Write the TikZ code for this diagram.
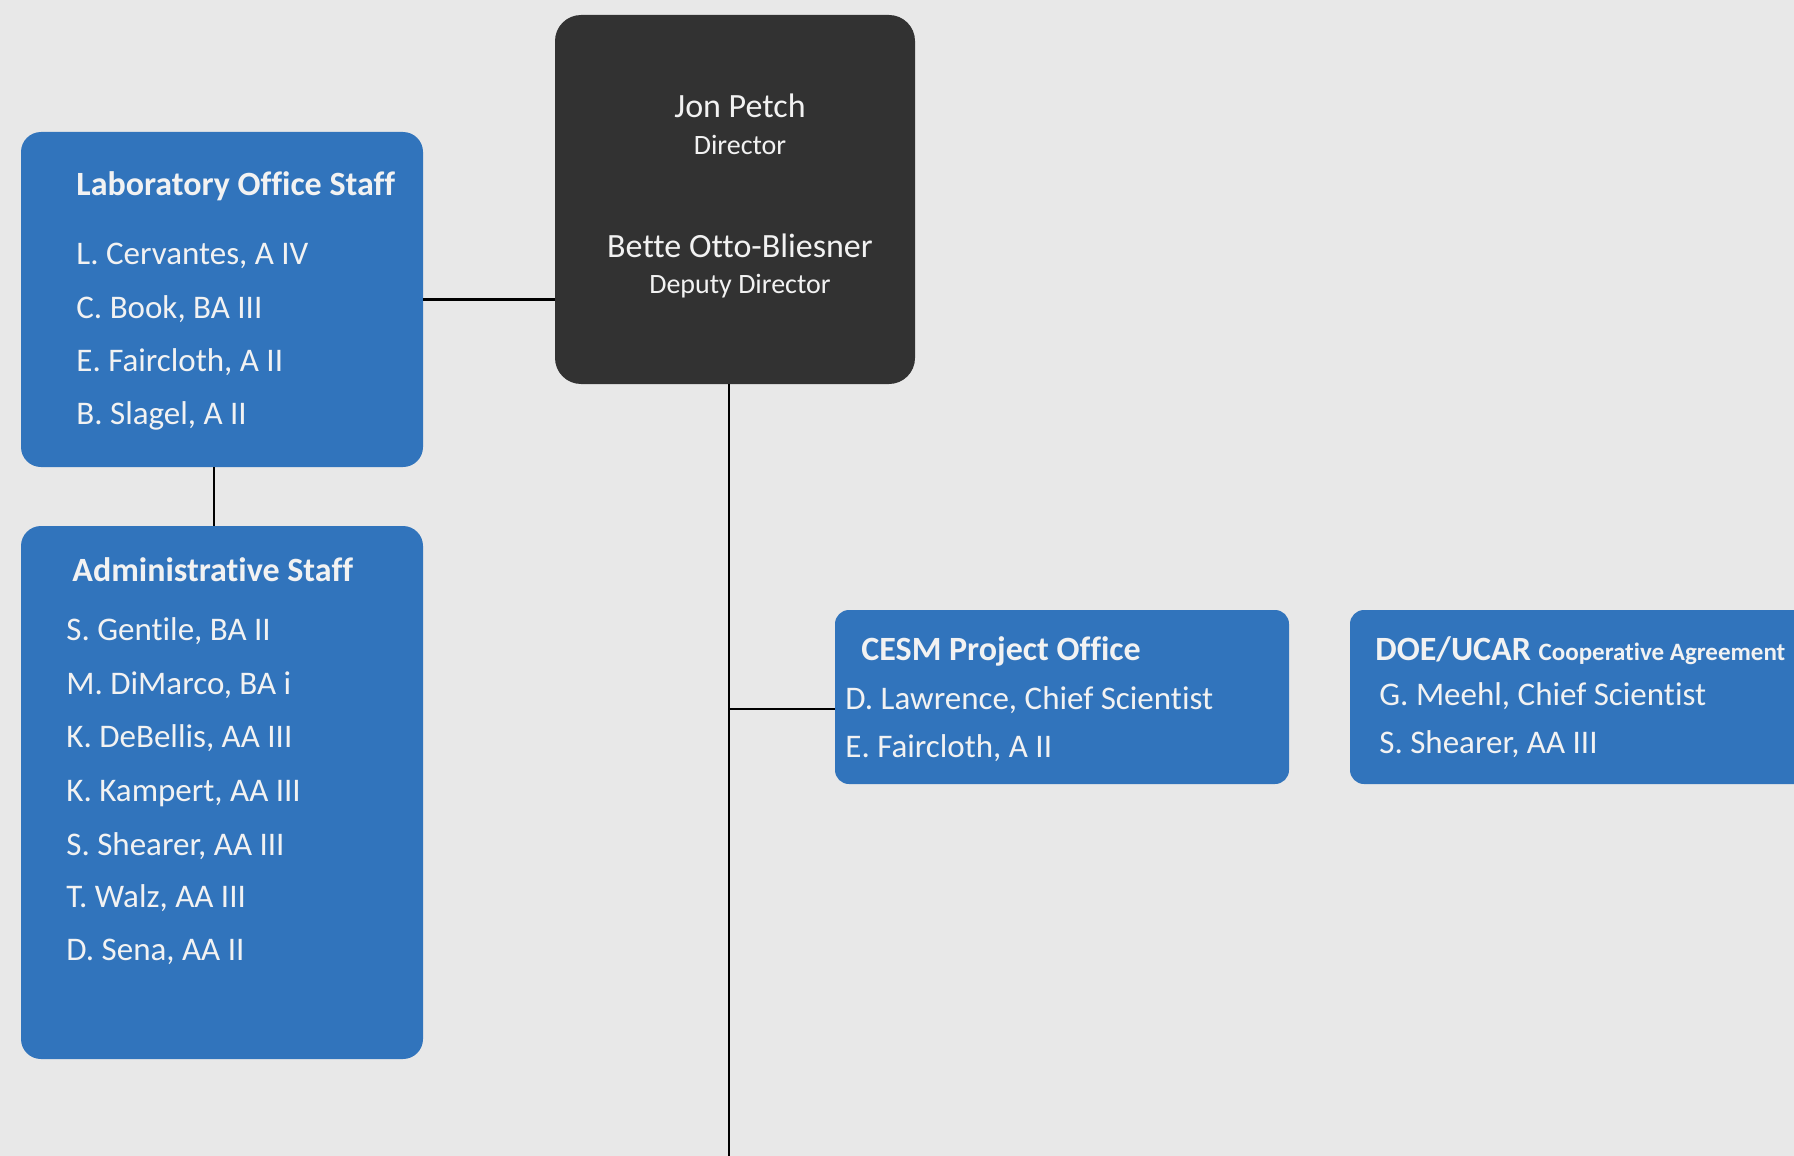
\documentclass[tikz,border=0pt]{standalone}
\usepackage{fontspec}
\setmainfont{Carlito}[Ligatures=NoCommon]
\definecolor{bgcol}{HTML}{E8E8E8}
\definecolor{boxblue}{HTML}{3174BC}
\definecolor{boxdark}{HTML}{323232}
\definecolor{txtwhite}{HTML}{F2F2F2}
\begin{document}
\begin{tikzpicture}[x=0.5pt,y=-0.5pt,
  bluebox/.style={fill=boxblue, draw=none, inner sep=0pt, outer sep=0pt, rounded corners=10pt},
  darkbox/.style={fill=boxdark, draw=none, inner sep=0pt, outer sep=0pt, rounded corners=13pt},
  conn/.style={draw=black, line width=1.3pt},
  item/.style={anchor=base west, inner sep=0pt, text=txtwhite, font=\fontsize{16.5}{18}\selectfont},
  head/.style={anchor=base west, inner sep=0pt, text=txtwhite, font=\fontsize{17}{19}\selectfont\bfseries},
  dname/.style={anchor=base, inner sep=0pt, text=txtwhite, font=\fontsize{17}{19}\selectfont},
  drole/.style={anchor=base, inner sep=0pt, text=txtwhite, font=\fontsize{14}{16}\selectfont}]
\clip (0,0) rectangle (1794,1156);
\fill[bgcol] (0,0) rectangle (1794,1156);

% boxes
\node[darkbox, minimum width=180pt, minimum height=184.5pt] (dir) at (735,199.5) {};
\node[bluebox, minimum width=201pt, minimum height=167.5pt] (lab) at (222,299.5) {};
\node[bluebox, minimum width=201pt, minimum height=266.5pt] (admin) at (222,792.5) {};
\node[bluebox, rounded corners=7pt, minimum width=227pt, minimum height=87pt] (cesm) at (1062,697) {};
\node[bluebox, rounded corners=7pt, minimum width=240pt, minimum height=87pt] (doe) at (1590,697) {};

% connectors
\coordinate (labdrop) at (214,467);
\coordinate (trunkend) at (729,1160);
\coordinate (branch) at (729,709);
\draw[conn] (lab.east) -- (lab.east -| dir.west);
\draw[conn] (labdrop) -- (labdrop |- admin.north);
\draw[conn] (trunkend |- dir.south) -- (trunkend);
\draw[conn] (branch) -- (branch -| cesm.west);

% director text
\node[dname] (n1) at (740,118) {Jon Petch};
\node[drole] (n2) at (740,155) {Director};
\node[dname] (n3) at (740,257) {Bette Otto-Bliesner};
\node[drole] (n4) at (740,293) {Deputy Director};

% lab office staff
\node[head] (l0) at (76,196) {Laboratory Office Staff};
\node[item] (l1) at (76,264) {L. Cervantes, A IV};
\node[item] (l2) at (76,318) {C. Book, BA III};
\node[item] (l3) at (76,371) {E. Faircloth, A II};
\node[item] (l4) at (76,424) {B. Slagel, A II};

% administrative staff
\node[head] (a0) at (72,581) {Administrative Staff};
\node[item] (a1) at (66,640) {S. Gentile, BA II};
\node[item] (a2) at (66,694) {M. DiMarco, BA i};
\node[item] (a3) at (66,747) {K. DeBellis, AA III};
\node[item] (a4) at (66,801) {K. Kampert, AA III};
\node[item] (a5) at (66,855) {S. Shearer, AA III};
\node[item] (a6) at (66,907) {T. Walz, AA III};
\node[item] (a7) at (66,960) {D. Sena, AA II};

% CESM
\node[head] (c0) at (861,660) {CESM Project Office};
\node[item] (c1) at (845,709) {D. Lawrence, Chief Scientist};
\node[item] (c2) at (845,757) {E. Faircloth, A II};

% DOE
\node[head] (d0) at (1375,660) {DOE/UCAR \fontsize{12.5}{14}\selectfont Cooperative Agreement};
\node[item] (d1) at (1379,705) {G. Meehl, Chief Scientist};
\node[item] (d2) at (1379,753) {S. Shearer, AA III};
\end{tikzpicture}
\end{document}
